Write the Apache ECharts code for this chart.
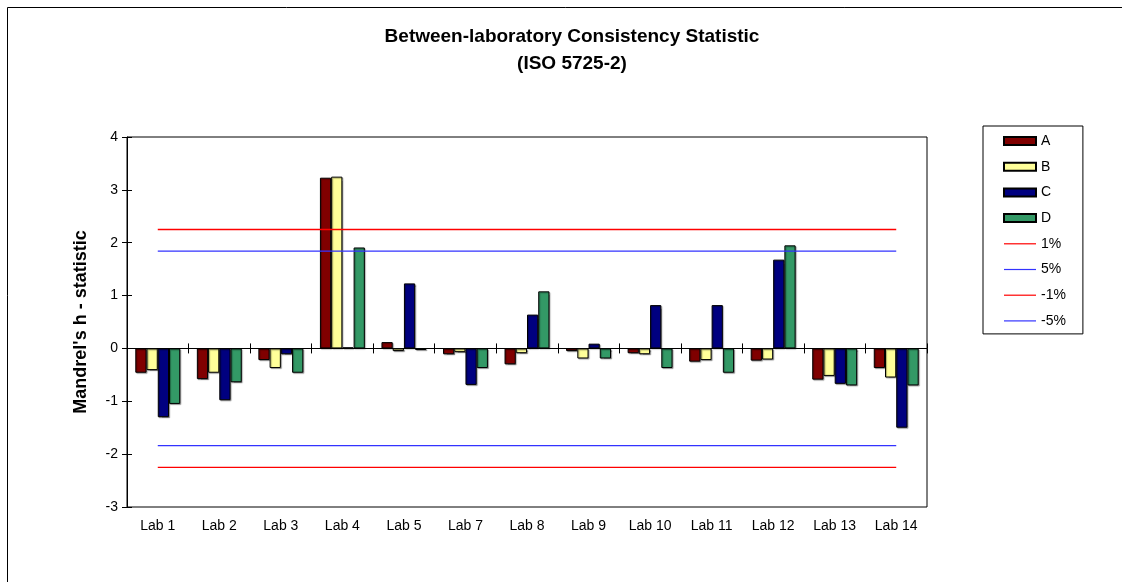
<!DOCTYPE html>
<html>
<head>
<meta charset="utf-8">
<script src="https://cdn.jsdelivr.net/npm/echarts@6/dist/echarts.min.js"></script>
<style>
  html, body { margin: 0; padding: 0; background: #fff; }
  #chart { width: 1122px; height: 582px; }
</style>
</head>
<body>
<div id="chart"></div>
<script>
// labs on the x axis
var labs = ['Lab 1', 'Lab 2', 'Lab 3', 'Lab 4', 'Lab 5', 'Lab 7', 'Lab 8', 'Lab 9', 'Lab 10', 'Lab 11', 'Lab 12', 'Lab 13', 'Lab 14'];

// Mandel's h per lab, one array per level
var valuesA = [-0.46, -0.58, -0.22, 3.23, 0.12, -0.11, -0.30, -0.05, -0.09, -0.25, -0.23, -0.59, -0.37];
var valuesB = [-0.41, -0.46, -0.37, 3.25, -0.05, -0.07, -0.09, -0.19, -0.11, -0.22, -0.21, -0.52, -0.55];
var valuesC = [-1.30, -0.98, -0.11, 0.02, 1.23, -0.69, 0.64, 0.09, 0.82, 0.82, 1.68, -0.67, -1.50];
var valuesD = [-1.05, -0.64, -0.46, 1.91, -0.03, -0.37, 1.08, -0.19, -0.37, -0.46, 1.95, -0.70, -0.70];

// critical values (ISO 5725-2)
var crit1 = 2.25;
var crit5 = 1.84;

var yTicks = { min: -3, max: 4, interval: 1 };

function flat(v) {
  return labs.map(function () { return v; });
}

var font = 'Arial, "Liberation Sans", sans-serif';
var lineIcon = 'path://M0,0H32V1.2H0Z';

function barSeries(name, color, data) {
  return {
    name: name,
    type: 'bar',
    xAxisIndex: 0,
    yAxisIndex: 0,
    barGap: '0%',
    barCategoryGap: '27%',
    itemStyle: { color: color, borderColor: '#000', borderWidth: 1,
                 shadowColor: 'rgba(0,0,0,0.35)', shadowBlur: 1, shadowOffsetX: 1, shadowOffsetY: 1 },
    emphasis: { disabled: true },
    data: data
  };
}

function lineSeries(name, color, data) {
  return {
    name: name,
    type: 'line',
    xAxisIndex: 0,
    yAxisIndex: 0,
    symbol: 'none',
    z: 5,
    lineStyle: { color: color, width: 1.3 },
    itemStyle: { color: color },
    data: data
  };
}

var chart = echarts.init(document.getElementById('chart'));
chart.setOption({
  animation: false,
  backgroundColor: '#fff',
  textStyle: { fontFamily: font, color: '#000' },
  graphic: [{
    type: 'rect',
    shape: { x: 7.5, y: 7.5, width: 1130, height: 590 },
    style: { fill: 'none', stroke: '#000', lineWidth: 1 },
    silent: true
  }],
  title: {
    text: 'Between-laboratory Consistency Statistic\n(ISO 5725-2)',
    left: 567,
    top: 18,
    textAlign: 'center',
    textStyle: { fontFamily: font, fontSize: 19, fontWeight: 'bold', color: '#000', lineHeight: 27 }
  },
  legend: {
    orient: 'vertical',
    left: 983,
    top: 126,
    padding: [8, 17, 6, 20],
    itemWidth: 32,
    itemHeight: 8,
    itemGap: 11.7,
    borderColor: '#000',
    borderWidth: 1,
    textStyle: { fontFamily: font, fontSize: 14, color: '#000' },
    data: [
      { name: 'A', icon: 'rect' },
      { name: 'B', icon: 'rect' },
      { name: 'C', icon: 'rect' },
      { name: 'D', icon: 'rect' },
      { name: '1%', icon: lineIcon },
      { name: '5%', icon: lineIcon },
      { name: '-1%', icon: lineIcon },
      { name: '-5%', icon: lineIcon }
    ]
  },
  grid: {
    left: 127, top: 137, right: 195, bottom: 75,
    show: true, borderColor: '#000', borderWidth: 1, backgroundColor: '#fff'
  },
  xAxis: [{
    type: 'category',
    data: labs,
    position: 'bottom',
    axisLine: { show: false, onZero: false },
    axisTick: { show: false },
    axisLabel: { fontFamily: font, fontSize: 14, color: '#000', margin: 12, interval: 0 }
  }, {
    type: 'category',
    data: labs,
    position: 'bottom',
    axisLine: { show: true, onZero: true, lineStyle: { color: '#000', width: 1 } },
    axisTick: { show: true, inside: false, length: 5, lineStyle: { color: '#000' } },
    axisLabel: { show: false }
  }, {
    type: 'category',
    data: labs,
    position: 'bottom',
    axisLine: { show: false, onZero: true },
    axisTick: { show: true, inside: true, length: 5, lineStyle: { color: '#000' } },
    axisLabel: { show: false }
  }],
  yAxis: [{
    type: 'value',
    min: yTicks.min,
    max: yTicks.max,
    interval: yTicks.interval,
    name: "Mandrel's h - statistic",
    nameLocation: 'middle',
    nameGap: 37,
    nameTextStyle: { fontFamily: font, fontSize: 18, fontWeight: 'bold', color: '#000' },
    axisLine: { show: true, lineStyle: { color: '#000' } },
    axisTick: { show: true, inside: false, length: 5, lineStyle: { color: '#000' } },
    axisLabel: { fontFamily: font, fontSize: 14, color: '#000', margin: 9 },
    splitLine: { show: false }
  }, {
    type: 'value',
    position: 'left',
    min: yTicks.min,
    max: yTicks.max,
    interval: yTicks.interval,
    axisLine: { show: false },
    axisTick: { show: true, inside: true, length: 5, lineStyle: { color: '#000' } },
    axisLabel: { show: false },
    splitLine: { show: false }
  }],
  series: [
    barSeries('A', '#800000', valuesA),
    barSeries('B', '#ffff99', valuesB),
    barSeries('C', '#000080', valuesC),
    barSeries('D', '#339966', valuesD),
    lineSeries('1%', '#ff0000', flat(crit1)),
    lineSeries('5%', '#3333ff', flat(crit5)),
    lineSeries('-1%', '#ff0000', flat(-crit1)),
    lineSeries('-5%', '#3333ff', flat(-crit5))
  ]
});
</script>
</body>
</html>
